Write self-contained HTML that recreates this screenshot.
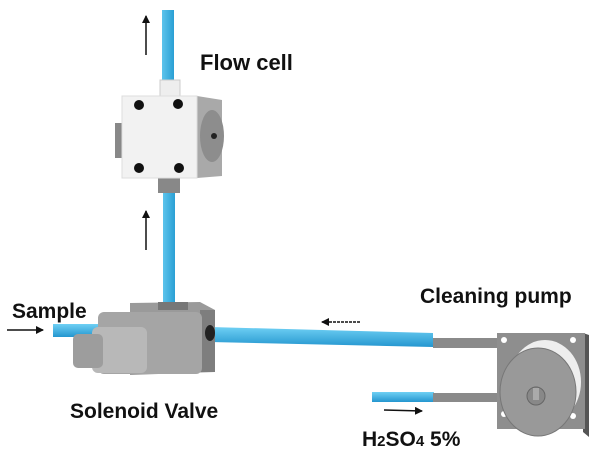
<!DOCTYPE html>
<html><head><style>
body{margin:0;background:#fff;width:615px;height:461px;overflow:hidden}
svg text{font-family:"Liberation Sans",sans-serif;font-weight:bold;fill:#111}
</style></head><body>
<svg width="615" height="461" viewBox="0 0 615 461" xmlns="http://www.w3.org/2000/svg">
<defs>
<marker id="ah" markerWidth="8" markerHeight="8" refX="7" refY="4" orient="auto" markerUnits="userSpaceOnUse"><path d="M0,0 L8,4 L0,8 z" fill="#111"/></marker>
<linearGradient id="tb" x1="0" x2="1"><stop offset="0" stop-color="#5cc4ec"/><stop offset="1" stop-color="#2a9fd4"/></linearGradient>
<linearGradient id="th" x1="0" y1="0" x2="0" y2="1"><stop offset="0" stop-color="#6fd0f4"/><stop offset="1" stop-color="#2496cf"/></linearGradient>
</defs>
<!-- tubes -->
<rect x="162" y="10" width="12" height="72" fill="url(#tb)"/>
<rect x="163" y="190" width="12" height="118" fill="url(#tb)"/>
<polygon points="210,327 433,333 433,347 210,342" fill="url(#th)"/>
<rect x="53" y="324" width="50" height="13" fill="url(#th)"/>
<rect x="372" y="392" width="62" height="10" fill="url(#th)"/>
<rect x="433" y="338" width="66" height="10" fill="#8a8a8a"/>
<rect x="433" y="393" width="66" height="9" fill="#8a8a8a"/>
<!-- flow cell -->
<rect x="160" y="80" width="20" height="17" fill="#eee" stroke="#ccc"/>
<rect x="158" y="177" width="22" height="16" fill="#888"/>
<rect x="115" y="123" width="12" height="35" fill="#888"/>
<polygon points="197,96 222,100 222,176 197,178" fill="#a9a9a9"/>
<ellipse cx="212" cy="136" rx="12" ry="26" fill="#8d8d8d"/>
<circle cx="214" cy="136" r="3" fill="#222"/>
<rect x="122" y="96" width="75" height="82" fill="#f2f2f2" stroke="#ddd"/>
<circle cx="139" cy="105" r="5" fill="#111"/><circle cx="178" cy="104" r="5" fill="#111"/>
<circle cx="139" cy="168" r="5" fill="#111"/><circle cx="179" cy="168" r="5" fill="#111"/>
<!-- valve -->
<polygon points="130,303 200,302 215,310 215,372 130,375" fill="#9a9a9a"/>
<rect x="158" y="302" width="30" height="8" fill="#777"/>
<rect x="200" y="310" width="15" height="62" fill="#7e7e7e"/>
<ellipse cx="210" cy="333" rx="5" ry="8" fill="#222"/>
<rect x="98" y="312" width="104" height="62" rx="6" fill="#a5a5a5"/>
<rect x="92" y="327" width="55" height="46" rx="6" fill="#b8b8b8"/>
<rect x="73" y="334" width="30" height="34" rx="5" fill="#9d9d9d"/>
<!-- pump -->
<polygon points="583,333 589,335 589,437 583,432" fill="#555"/>
<rect x="497" y="333" width="88" height="96" fill="#8e8e8e"/>
<circle cx="504" cy="340" r="3" fill="#fff"/><circle cx="573" cy="340" r="3" fill="#fff"/>
<circle cx="504" cy="414" r="3" fill="#fff"/><circle cx="573" cy="416" r="3" fill="#fff"/>
<ellipse cx="545" cy="382" rx="36" ry="42" fill="#eee"/>
<ellipse cx="538" cy="392" rx="38" ry="44" fill="#999" stroke="#777"/>
<circle cx="536" cy="396" r="9" fill="#888" stroke="#666"/>
<rect x="533" y="388" width="6" height="12" fill="#aaa"/>
<!-- arrows -->
<line x1="146" y1="55" x2="146" y2="16" stroke="#111" stroke-width="1.5" marker-end="url(#ah)"/>
<line x1="146" y1="250" x2="146" y2="211" stroke="#111" stroke-width="1.5" marker-end="url(#ah)"/>
<line x1="7" y1="330" x2="43" y2="330" stroke="#111" stroke-width="1.5" marker-end="url(#ah)"/>
<line x1="360" y1="322" x2="322" y2="322" stroke="#111" stroke-width="1.5" stroke-dasharray="3,1" marker-end="url(#ah)"/>
<line x1="384" y1="410" x2="422" y2="411" stroke="#111" stroke-width="1.5" marker-end="url(#ah)"/>
<!-- labels -->
<text x="200" y="70" font-size="22">Flow cell</text>
<text x="12" y="318" font-size="21">Sample</text>
<text x="70" y="418" font-size="21">Solenoid Valve</text>
<text x="420" y="303" font-size="21">Cleaning pump</text>
<text x="362" y="446" font-size="21">H<tspan font-size="15">2</tspan>SO<tspan font-size="15">4</tspan>  5%</text>
</svg>
</body></html>
